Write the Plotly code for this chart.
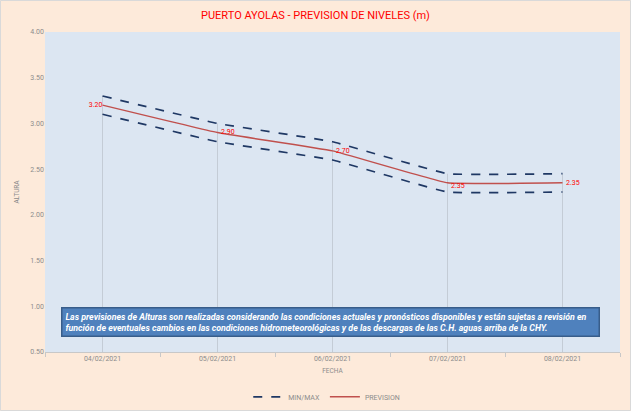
import plotly.graph_objects as go

# data
fechas = ["04/02/2021", "05/02/2021", "06/02/2021", "07/02/2021", "08/02/2021"]
maximo = [3.30, 3.00, 2.80, 2.45, 2.45]
minimo = [3.10, 2.80, 2.60, 2.25, 2.25]
prevision = [3.20, 2.90, 2.70, 2.35, 2.35]
y_ticks = [0.5, 1.0, 1.5, 2.0, 2.5, 3.0, 3.5, 4.0]

NOTA = ("Las previsiones de Alturas son realizadas considerando las condiciones actuales y pronósticos disponibles y están sujetas a revisión en<br>"
        "función de eventuales cambios en las condiciones hidrometeorológicas y de las descargas de las C.H. aguas arriba de la CHY.")

PAPER_BG = "#FDEADA"
PLOT_BG = "#DCE6F2"
NAVY = "#1F3864"
RED = "#C0504D"
GREY = "#8C8C8C"
FONT = "Roboto, Liberation Sans, sans-serif"
Y_MIN = 0.5
SMOOTH = 0.25

label_pos = ["middle left", "middle right", "middle right", "bottom right", "middle right"]
labels = []
for v, pos in zip(prevision, label_pos):
    pad = "\u00a0\u00a0" if pos.endswith("right") else ""
    labels.append(pad + "{:.2f}".format(v))

fig = go.Figure()

# drop lines from the max series down to the axis
fig.add_trace(go.Scatter(x=fechas, y=maximo, mode="markers",
                         marker=dict(size=0.1, color="rgba(0,0,0,0)"),
                         error_y=dict(type="data", symmetric=False,
                                      array=[0] * len(maximo),
                                      arrayminus=[v - Y_MIN for v in maximo],
                                      color="#C4CCD6", thickness=1, width=0),
                         showlegend=False, hoverinfo="skip"))

fig.add_trace(go.Scatter(x=fechas, y=maximo, mode="lines", name="MIN/MAX", legendgroup="mm",
                         line=dict(color=NAVY, width=1.7, dash="dash", shape="spline", smoothing=SMOOTH)))
fig.add_trace(go.Scatter(x=fechas, y=minimo, mode="lines", name="MIN/MAX", legendgroup="mm",
                         showlegend=False,
                         line=dict(color=NAVY, width=1.7, dash="dash", shape="spline", smoothing=SMOOTH)))

fig.add_trace(go.Scatter(x=fechas, y=prevision, mode="lines+text", name="PREVISION",
                         line=dict(color=RED, width=1.5, shape="spline", smoothing=SMOOTH),
                         text=labels, textposition=label_pos,
                         textfont=dict(color="#FF0000", size=7, family=FONT)))

fig.update_layout(
    width=631, height=411,
    paper_bgcolor=PAPER_BG, plot_bgcolor=PLOT_BG,
    margin=dict(l=45, r=11, t=32, b=59, autoexpand=False),
    font=dict(family=FONT, color=GREY, size=7),
    title=dict(text="PUERTO AYOLAS - PREVISION DE NIVELES (m)", x=0.5, xanchor="center",
               y=0.963, yanchor="middle", font=dict(color="#FF0000", size=11, family=FONT)),
    xaxis=dict(type="category", range=[-0.5, 4.5], showgrid=False, showline=True, automargin=False,
               linecolor="#C8C8C8", linewidth=1, ticks="outside", tickson="boundaries",
               ticklen=4, tickcolor="#C8C8C8", tickfont=dict(size=7, color=GREY),
               title=dict(text="FECHA", font=dict(size=6.5, color=GREY), standoff=6)),
    yaxis=dict(range=[Y_MIN, 4.0], tickvals=y_ticks, tickformat=".2f", showgrid=False, automargin=False,
               zeroline=False, showline=False, tickfont=dict(size=7, color=GREY),
               title=dict(text="ALTURA", font=dict(size=6.5, color=GREY), standoff=10)),
    legend=dict(orientation="h", x=0.49, xanchor="center", y=-0.14, yanchor="middle",
                font=dict(size=7, color=GREY), bgcolor="rgba(0,0,0,0)",
                itemwidth=30, entrywidth=0, tracegroupgap=0),
)

# note box
fig.add_annotation(text="<b><i>" + NOTA + "</i></b>", xref="paper", yref="paper",
                   x=0.497, y=0.094, xanchor="center", yanchor="middle",
                   showarrow=False, align="left", width=530,
                   bgcolor="#4F81BD", bordercolor="#385D8A", borderwidth=1.5, borderpad=3,
                   font=dict(color="white", size=8.8, family=FONT))

# outer chart border
fig.add_shape(type="rect", xref="paper", yref="paper",
              x0=-44.5 / 575, x1=1 + 10.5 / 575, y0=-58.5 / 320, y1=1 + 31.5 / 320,
              line=dict(color="#D9D9D9", width=1), fillcolor="rgba(0,0,0,0)", layer="below")

# browser default body margin would shift the figure by 8px
fig.write_html("out.html", config={"displayModeBar": False},
               post_script="document.body.style.margin='0';document.body.style.overflow='hidden';")
